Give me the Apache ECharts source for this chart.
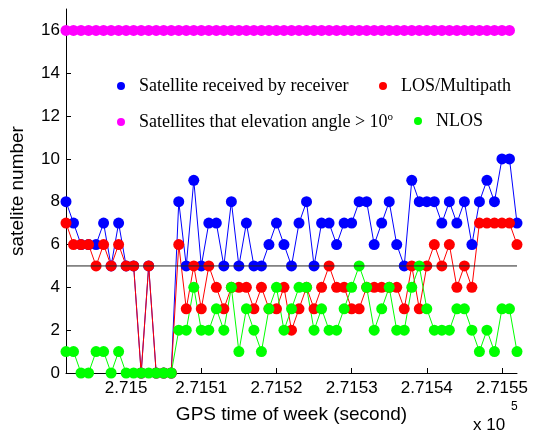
<!DOCTYPE html>
<html><head><meta charset="utf-8">
<script src="https://cdn.jsdelivr.net/npm/echarts@6/dist/echarts.min.js"></script>
<style>html,body{margin:0;padding:0;background:#fff}#c{width:533px;height:434px}</style>
</head><body><div id="c"></div>
<script>
// GPS time of week (s)
const times = [271492,271493,271494,271495,271496,271497,271498,271499,271500,271501,
  271502,271503,271504,271505,271506,271507,271508,271509,271510,271511,
  271512,271513,271514,271515,271516,271517,271518,271519,271520,271521,
  271522,271523,271524,271525,271526,271527,271528,271529,271530,271531,
  271532,271533,271534,271535,271536,271537,271538,271539,271540,271541,
  271542,271543,271544,271545,271546,271547,271548,271549,271550,271551,271552];
// Satellite received by receiver
const receivedSats = [8,7,6,6,6,7,5,7,5,5,0,5,0,0,0,8,5,9,5,7,7,5,8,5,7,5,5,6,7,6,5,7,8,5,7,7,6,7,7,8,8,6,7,8,6,5,9,8,8,8,7,8,7,8,6,8,9,8,10,10,7];
// LOS/Multipath
const losSats = [7,6,6,6,5,6,5,6,5,5,0,5,0,0,0,6,3,5,3,5,4,3,4,4,4,3,4,3,3,4,2,3,4,3,4,5,4,4,3,3,4,4,4,4,4,3,5,3,5,6,5,6,4,5,4,7,7,7,7,7,6];
// NLOS
const nlosSats = [1,1,0,0,1,1,0,1,0,0,0,0,0,0,0,2,2,4,2,2,3,2,4,1,3,2,1,3,4,2,3,4,4,2,3,2,2,3,4,5,4,2,3,4,2,2,4,5,3,2,2,2,3,3,2,1,2,1,3,3,1];
// Satellites that elevation angle > 10 deg
const elevSats = [16,16,16,16,16,16,16,16,16,16,16,16,16,16,16,16,16,16,16,16,
  16,16,16,16,16,16,16,16,16,16,16,16,16,16,16,16,16,16,16,16,
  16,16,16,16,16,16,16,16,16,16,16,16,16,16,16,16,16,16,16,16];
const refLevel = 5;
const xTickValues = [271500,271510,271520,271530,271540,271550];
const xTickLabels = ['2.715','2.7151','2.7152','2.7153','2.7154','2.7155'];
const yTickValues = [0,2,4,6,8,10,12,14,16];
const seriesNames = ['Satellite received by receiver','LOS/Multipath','Satellites that elevation angle > 10o','NLOS'];
const seriesColors = ['#0000ff','#ff0000','#ff00ff','#00ff00'];

const pairs = arr => arr.map((v,i)=>[times[i], v]);
const sans = 'Liberation Sans';
const serif = 'Liberation Serif';

function mkSeries(idx, arr){
  return {
    name: seriesNames[idx], type:'line', data: pairs(arr),
    symbol:'circle', symbolSize:11, showSymbol:true,
    lineStyle:{color:seriesColors[idx], width:1},
    itemStyle:{color:seriesColors[idx]},
    emphasis:{disabled:true}, animation:false
  };
}
function mkLegend(idx, left, top, formatter){
  const l = {
    data:[seriesNames[idx]], left:left, top:top, icon:'circle',
    itemWidth:26, itemHeight:8, itemGap:0, padding:0, selectedMode:false,
    textStyle:{fontFamily:serif, fontSize:18, color:'#000'}
  };
  if (formatter) { l.formatter = formatter; }
  return l;
}

const chart = echarts.init(document.getElementById('c'), null, {renderer:'canvas'});
chart.setOption({
  animation:false,
  backgroundColor:'#fff',
  grid:{left:63, right:16, top:9, bottom:61, containLabel:false},
  legend:[
    mkLegend(0, 117, 77),
    mkLegend(1, 379, 77),
    Object.assign(mkLegend(2, 117, 112, function(){ return '{t|Satellites that elevation angle > 10}{s|o}'; }),
      {textStyle:{fontFamily:serif, fontSize:18, color:'#000',
        rich:{t:{fontFamily:serif, fontSize:18, color:'#000', lineHeight:20},
              s:{fontFamily:serif, fontSize:11, color:'#000', verticalAlign:'top', lineHeight:20}}}}),
    mkLegend(3, 414, 112)
  ],
  xAxis:{
    type:'value', min:271492, max:271552,
    name:'GPS time of week (second)', nameLocation:'middle', nameGap:32,
    nameTextStyle:{fontFamily:sans, fontSize:19, color:'#000'},
    axisLine:{show:true, lineStyle:{color:'#000', width:1}},
    axisTick:{show:true, inside:true, length:5, customValues:xTickValues, lineStyle:{color:'#000'}},
    axisLabel:{customValues:xTickValues, fontFamily:sans, fontSize:17, color:'#000', margin:7,
      formatter:function(v){ const k = xTickValues.indexOf(v); return k>=0 ? xTickLabels[k] : ''; }},
    splitLine:{show:false}
  },
  yAxis:{
    type:'value', min:0, max:17,
    name:'satelite number', nameLocation:'middle', nameGap:39, nameRotate:90,
    nameTextStyle:{fontFamily:sans, fontSize:19, color:'#000'},
    axisLine:{show:true, lineStyle:{color:'#000', width:1}},
    axisTick:{show:true, inside:true, length:5, customValues:yTickValues, lineStyle:{color:'#000'}},
    axisLabel:{customValues:yTickValues, fontFamily:sans, fontSize:17, color:'#000', margin:6},
    splitLine:{show:false}
  },
  graphic:[
    {type:'text', left:473, top:417, style:{text:'x 10', font:'17px "Liberation Sans"', fill:'#000'}},
    {type:'text', left:511, top:401, style:{text:'5', font:'12px "Liberation Sans"', fill:'#000'}}
  ],
  series:[
    mkSeries(0, receivedSats),
    mkSeries(1, losSats),
    mkSeries(2, elevSats),
    mkSeries(3, nlosSats),
    {name:'ref', type:'line', data:[[times[0], refLevel],[times[times.length-1], refLevel]],
     symbol:'none', lineStyle:{color:'#222', width:1}, z:5, silent:true, animation:false}
  ]
});
</script></body></html>
